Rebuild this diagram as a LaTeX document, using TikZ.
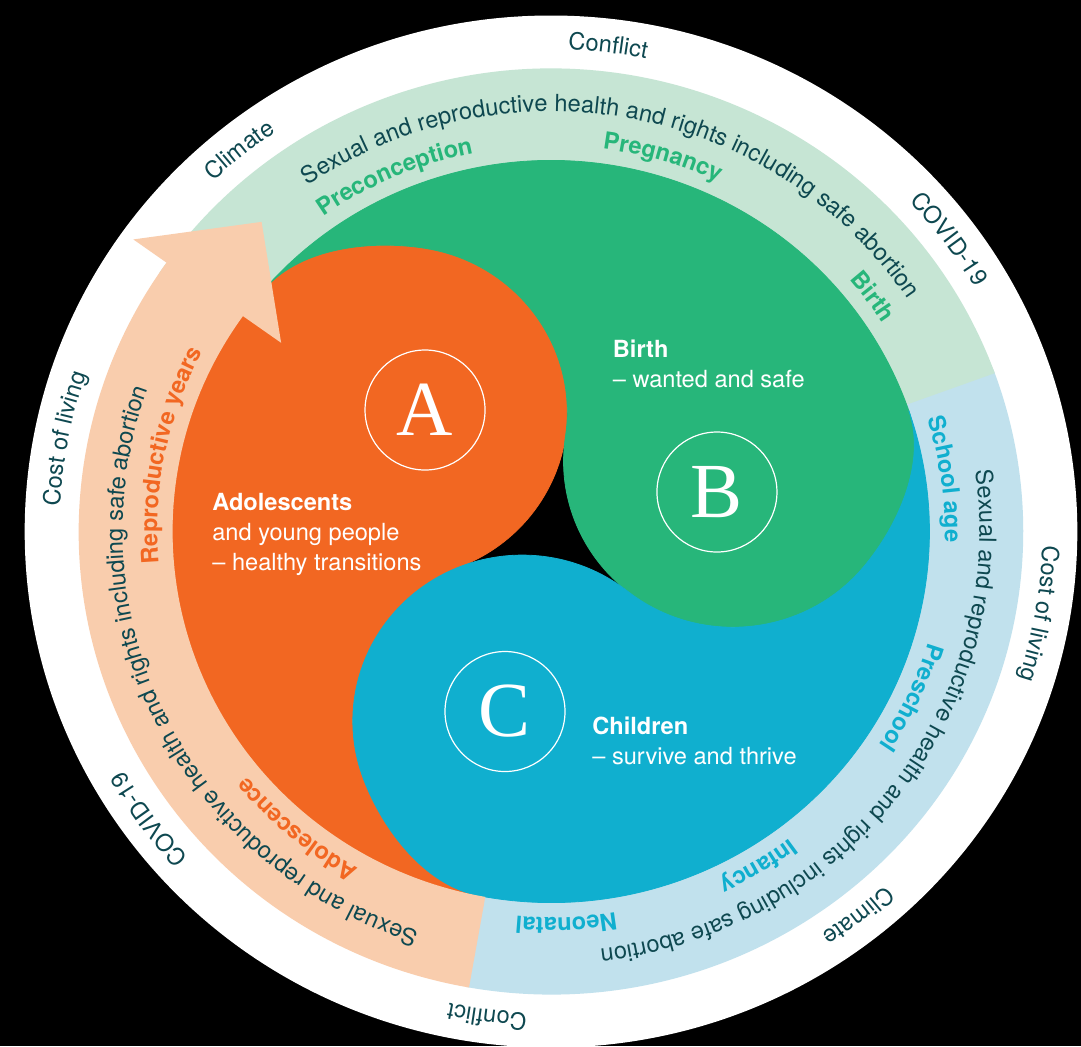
\documentclass[tikz,border=0pt]{standalone}
\usepackage{fontspec}
\setmainfont{TeX Gyre Heros}
\newfontfamily\letterfont{Liberation Serif}
\usetikzlibrary{decorations.text}

\definecolor{ink}{RGB}{14,72,80}
\definecolor{adolorange}{RGB}{242,103,34}
\definecolor{birthgreen}{RGB}{39,182,122}
\definecolor{childblue}{RGB}{16,175,207}
\definecolor{peachband}{RGB}{249,205,173}
\definecolor{greenband}{RGB}{198,229,212}
\definecolor{blueband}{RGB}{193,225,237}

\newcommand\wheelfont{\fontsize{11.8}{15}\selectfont}

\tikzset{
  ringword/.style={decorate, decoration={text along path, text align=center, text color=ink, text={|\wheelfont|#1}}},
  stagelabel/.style 2 args={decorate, decoration={text along path, text align=center, text color=#1, text={|\wheelfont\bfseries|#2}}},
  piece/.style={fill=#1, draw=#1, line width=0.4pt}
}

\begin{document}
\begin{tikzpicture}[x=0.51pt, y=0.5pt]
  \tikzstyle{letter}=[circle, draw=white, line width=0.6pt, minimum size=60pt, inner sep=0pt, text=white, font=\letterfont\fontsize{39}{39}\selectfont]
  \tikzstyle{lifetext}=[anchor=base west, inner sep=0pt, text=white, font=\wheelfont]

  % page and white outer ring
  \fill[black] (-540.2,-514.5) rectangle (519.6,531.5);
  \useasboundingbox (-540.2,-514.5) rectangle (519.6,531.5);
  \fill[white] (0,0) circle[radius=516];

  % bands under the swirl
  \fill[blueband] (259.5:463) arc[start angle=259.5, end angle=380.5, radius=463]
    -- (380.5:360) arc[start angle=380.5, end angle=259.5, radius=360] -- cycle;
  \fill[greenband] (20:463) arc[start angle=20, end angle=146, radius=463]
    -- (146:360) arc[start angle=146, end angle=20, radius=360] -- cycle;
  \fill[black] (0,0) circle[radius=120];

  % the three swirl pieces
  \filldraw[piece=adolorange] (139:371) arc[start angle=139, end angle=259, radius=371]
    .. controls (250.72:374.9) and (241.06:340.8) .. (233.42:308.5)
    arc[start angle=200.5, end angle=111.5, radius=166]
    arc[start angle=-68.5, end angle=80.5, radius=166]
    .. controls (121.06:340.8) and (130.72:374.9) .. (139:371) -- cycle;
  \filldraw[piece=birthgreen] (19:371) arc[start angle=19, end angle=139, radius=371]
    .. controls (130.72:374.9) and (121.06:340.8) .. (113.42:308.5)
    arc[start angle=80.5, end angle=-8.5, radius=166]
    arc[start angle=-188.5, end angle=-39.5, radius=166]
    .. controls (1.06:340.8) and (10.72:374.9) .. (19:371) -- cycle;
  \filldraw[piece=childblue] (259:371) arc[start angle=259, end angle=379, radius=371]
    .. controls (370.72:374.9) and (361.06:340.8) .. (353.42:308.5)
    arc[start angle=320.5, end angle=231.5, radius=166]
    arc[start angle=51.5, end angle=200.5, radius=166]
    .. controls (241.06:340.8) and (250.72:374.9) .. (259:371) -- cycle;

  % peach band ending in the arrow
  \fill[peachband] (260:463) arc[start angle=260, end angle=144.5, radius=463]
    -- (144.5:503) -- (132.5:420) -- (144.5:325) -- (144.5:371)
    arc[start angle=144.5, end angle=260, radius=371] -- cycle;

  % letters and captions
  \node[letter] (A) at (-123.5,121.5) {A};
  \node[letter] (B) at (162.7,39.5) {B};
  \node[letter] (C) at (-45.1,-180) {C};

  \node[lifetext, font=\wheelfont\bfseries] (adol) at (-332.4,21.5) {Adolescents};
  \node[lifetext] (adol2) at ([yshift=-15pt]adol.base west) {and young people};
  \node[lifetext] (adol3) at ([yshift=-15pt]adol2.base west) {– healthy transitions};
  \node[lifetext, font=\wheelfont\bfseries] (birth) at (60.3,174.5) {Birth};
  \node[lifetext] (birth2) at ([yshift=-15pt]birth.base west) {– wanted and safe};
  \node[lifetext, font=\wheelfont\bfseries] (child) at (40.2,-202.5) {Children};
  \node[lifetext] (child2) at ([yshift=-15pt]child.base west) {– survive and thrive};

  % outer ring words
  \path[ringword=Conflict] (108.4:482) arc[start angle=108.4, end angle=58.4, radius=482];
  \path[ringword=Climate] (153.8:482) arc[start angle=153.8, end angle=103.8, radius=482];
  \path[ringword=COVID-19] (61.75:482) arc[start angle=61.75, end angle=11.75, radius=482];
  \path[ringword=Cost of living] (194:482) arc[start angle=194, end angle=144, radius=482];
  \path[ringword=Cost of living] (15.3:482) arc[start angle=15.3, end angle=-34.7, radius=482];
  \path[ringword=Climate] (-26.8:482) arc[start angle=-26.8, end angle=-76.8, radius=482];
  \path[ringword=Conflict] (287.6:482) arc[start angle=287.6, end angle=237.6, radius=482];
  \path[ringword=COVID-19] (241:482) arc[start angle=241, end angle=191, radius=482];

  % band text
  \path[ringword=Sexual and reproductive health and rights including safe abortion]
    (137:420) arc[start angle=137, end angle=21, radius=420];
  \path[ringword=Sexual and reproductive health and rights including safe abortion]
    (20.6:420) arc[start angle=20.6, end angle=-95.4, radius=420];
  \path[ringword=Sexual and reproductive health and rights including safe abortion]
    (264:420) arc[start angle=264, end angle=148, radius=420];

  % life stages
  \path[stagelabel={birthgreen}{Preconception}] (143.4:386) arc[start angle=143.4, end angle=83.4, radius=386];
  \path[stagelabel={birthgreen}{Pregnancy}] (103.6:386) arc[start angle=103.6, end angle=43.6, radius=386];
  \path[stagelabel={birthgreen}{Birth}] (66.5:386) arc[start angle=66.5, end angle=6.5, radius=386];
  \path[stagelabel={childblue}{School age}] (37.7:386) arc[start angle=37.7, end angle=-22.3, radius=386];
  \path[stagelabel={childblue}{Preschool}] (5:386) arc[start angle=5, end angle=-55, radius=386];
  \path[stagelabel={childblue}{Infancy}] (-28.6:386) arc[start angle=-28.6, end angle=-88.6, radius=386];
  \path[stagelabel={childblue}{Neonatal}] (-57.8:386) arc[start angle=-57.8, end angle=-117.8, radius=386];
  \path[stagelabel={adolorange}{Adolescence}] (259.9:386) arc[start angle=259.9, end angle=199.9, radius=386];
  \path[stagelabel={adolorange}{Reproductive years}] (198.5:386) arc[start angle=198.5, end angle=138.5, radius=386];
\end{tikzpicture}
\end{document}
